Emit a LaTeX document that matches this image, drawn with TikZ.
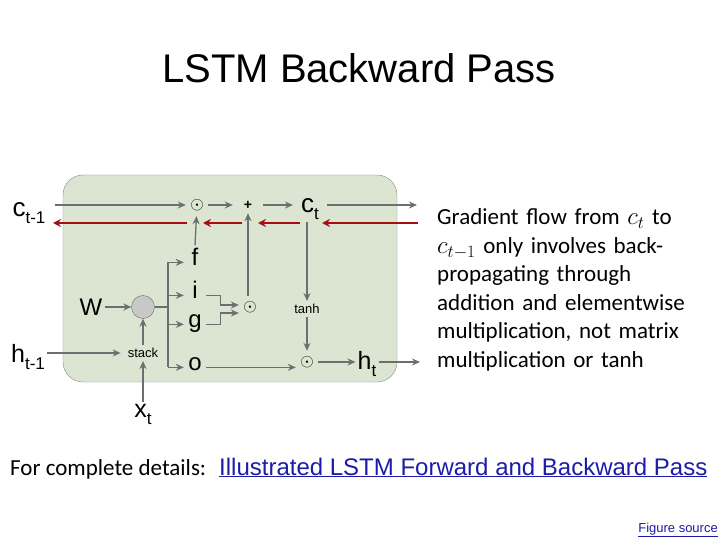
\documentclass[tikz,border=0pt]{standalone}
\usepackage{fontspec}
\setmainfont{Liberation Sans}
\newfontfamily\calibri{Carlito}
\usepackage{tikz}
\usetikzlibrary{arrows.meta}

\definecolor{cellgreen}{HTML}{DBE5D1}
\definecolor{cellline}{HTML}{8C8C8C}
\definecolor{arrgray}{HTML}{6E6E6E}
\definecolor{gradred}{HTML}{A50F0F}
\definecolor{linkblue}{HTML}{1C1CA8}
\definecolor{sumgray}{HTML}{C8C8C8}

\newcommand{\lsub}[2]{#1\raisebox{-7pt}{\fontsize{17}{17}\selectfont #2}}

\begin{document}
\begin{tikzpicture}[x=1pt, y=-1pt,
    gar/.style={draw=arrgray, line width=1.3pt, -{Stealth[length=8pt,width=7pt]}},
    gline/.style={draw=arrgray, line width=1.3pt},
    redar/.style={draw=gradred, line width=2.6pt, -{Stealth[length=8pt,width=8pt]}},
    vlab/.style={font=\fontsize{26}{26}\selectfont, inner sep=2pt},
    gate/.style={font=\fontsize{24}{24}\selectfont, anchor=base, minimum width=22pt, inner sep=2pt},
    opnode/.style={circle, minimum size=22pt, inner sep=0pt, font=\fontsize{18}{18}\selectfont},
    small/.style={font=\fontsize{13}{13}\selectfont, inner sep=3pt}]
  \useasboundingbox (0,0) rectangle (720,540);

  % title
  \node[anchor=base, font=\fontsize{40}{40}\selectfont] (ttl) at (359,83) {LSTM Backward Pass};

  % cell
  \draw[draw=cellline, fill=cellgreen, rounded corners=20pt] (63,175) rectangle (397,382);

  % nodes
  \node[vlab] (cm1) at (29,213) {\lsub{c}{t-1}};
  \node[opnode] (oda) at (197,205) {$\odot$};
  \node[minimum width=30pt, minimum height=16pt, inner sep=0pt, font=\bfseries\fontsize{14}{14}\selectfont] (plus) at (248,205) {+};
  \node[vlab, inner xsep=8pt] (ct) at (310,209) {\lsub{c}{t}};
  \coordinate (cin) at (55,205);
  \coordinate (cout) at (417,205);

  \node[gate] (fg) at (195,265) {f};
  \node[gate] (ig) at (195,298) {i};
  \node[gate] (gg) at (195,327) {g};
  \node[gate] (og) at (195,370) {o};

  \node[font=\fontsize{24}{24}\selectfont, inner sep=2pt] (wm) at (91,307) {W};
  \node[circle, draw=arrgray, fill=sumgray, minimum size=23pt, inner sep=0pt] (wsum) at (143,307) {};
  \node[small, inner xsep=7pt] (stk) at (143,353) {stack};
  \node[vlab, font=\fontsize{25}{25}\selectfont] (hm1) at (28,357) {\lsub{h}{t-1}};
  \node[vlab, font=\fontsize{25}{25}\selectfont] (xt) at (143,414) {\lsub{x}{t}};
  \coordinate (bx) at (168,307);

  \node[opnode] (odb) at (250,307) {$\odot$};
  \node[small] (tnh) at (307,309) {tanh};
  \node[opnode] (odc) at (307,362) {$\odot$};
  \node[vlab, font=\fontsize{25}{25}\selectfont] (ht) at (367,364) {\lsub{h}{t}};
  \coordinate (hout) at (420,362);

  % forward arrows
  \draw[gar] (cin) -- (oda);
  \draw[gar] (oda) -- (plus);
  \draw[gar] (plus) -- (plus -| ct.west);
  \draw[gar] (ct.east |- cout) -- (cout);
  \draw[gar] (wm) -- (wsum);
  \draw[gar] (stk) -- (wsum);
  \draw[gar] (hm1.east |- stk) -- (stk);
  \draw[gar] (xt) -- (stk);
  \draw[gline] (wsum) -- (bx);
  \draw[gline] (bx |- fg.mid) -- (bx |- og.mid);
  \foreach \g in {fg,ig,gg,og}
    \draw[gar] (bx |- \g.mid) -- (\g.mid west);
  \draw[gar] (fg.north) -- (oda);
  \draw[gar] (ig.mid east) -- ++(14,0) |- ([yshift=2pt]odb.west);
  \draw[gar] (gg.mid east) -- ++(14,0) |- ([yshift=-6pt]odb.west);
  \draw[gar] (odb.north -| plus) -- (plus);
  \draw[gar] (ct.south -| tnh) -- (tnh);
  \draw[gar] (tnh) -- (odc);
  \draw[gar] (og.mid east) -- (og.mid east -| odc.west);
  \draw[gar] (odc) -- (odc -| ht.west);
  \draw[gar] (ht.east |- hout) -- (hout);

  % gradient
  \coordinate (rin) at (418,223);
  \coordinate (rout) at (53,223);
  \draw[redar] (rin) -- ([xshift=12pt]ct |- rin);
  \draw[redar] ([xshift=-10pt]ct |- rin) -- ([xshift=10pt]plus |- rin);
  \draw[redar] ([xshift=-6pt]plus |- rin) -- ([xshift=6pt]oda |- rin);
  \draw[redar] ([xshift=-10pt]oda |- rin) -- (rout);

  % note
  \node[anchor=base west, inner sep=0pt, text width=285pt, align=left,
        font=\calibri\fontsize{23}{28.5}\selectfont] (note) at (437,225)
    {Gradient flow from $c_t$ to\\
     $c_{t-1}$ only involves back-\\
     propagating through\\
     addition and elementwise\\
     multiplication, not matrix\\
     multiplication or tanh};

  % links
  \node[anchor=base west, inner sep=0pt, font=\calibri\fontsize{23}{23}\selectfont] (det) at (10,475) {For complete details:};
  \node[anchor=base west, inner sep=0pt, text=linkblue, font=\fontsize{24}{24}\selectfont] (lnk) at (219,475) {\underline{Illustrated LSTM Forward and Backward Pass}};
  \node[anchor=base east, inner sep=0pt, text=linkblue, font=\fontsize{13}{13}\selectfont] (src) at (718,532) {\underline{Figure source}};
\end{tikzpicture}
\end{document}
